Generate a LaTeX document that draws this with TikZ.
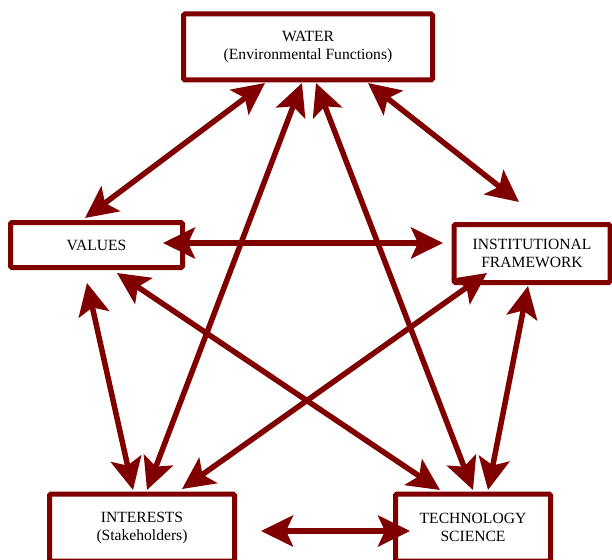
\documentclass[tikz,border=0pt]{standalone}
\usepackage{fontspec}
\setmainfont{Liberation Serif}
\usetikzlibrary{arrows.meta}
\definecolor{maroonc}{HTML}{800000}
\tikzset{
  box/.style={draw=maroonc, line width=5pt, fill=white, rounded corners=1.5pt,
    align=center, inner sep=0pt, font=\fontsize{15.6}{18}\selectfont},
  dbl/.style={draw=maroonc, line width=5.5pt,
    {Stealth[length=32pt,width=31pt,inset=7pt]}-{Stealth[length=32pt,width=31pt,inset=7pt]}}
}
\begin{document}
\begin{tikzpicture}[x=1pt,y=-1pt]
\useasboundingbox (0,0) rectangle (612,559);
% boxes
\node[box, minimum width=249pt, minimum height=66pt] (water) at (308,47)
  {WATER\\(Environmental Functions)};
\node[box, minimum width=172pt, minimum height=45pt] (values) at (96.5,245) {VALUES};
\node[box, minimum width=156pt, minimum height=58pt] (inst) at (532,253.5)
  {INSTITUTIONAL\\FRAMEWORK};
\node[box, minimum width=185pt, minimum height=67pt] (interests) at (142,527.5)
  {INTERESTS\\(Stakeholders)};
\node[box, minimum width=155pt, minimum height=67pt] (tech) at (473,527.5)
  {TECHNOLOGY\\SCIENCE};
% arrow end points
\coordinate (wv1) at (265,83);  \coordinate (wv2) at (85,218);
\coordinate (wi1) at (302,83);  \coordinate (wi2) at (147,490);
\coordinate (wt1) at (316,83);  \coordinate (wt2) at (473,490);
\coordinate (wn1) at (368,83);  \coordinate (wn2) at (519,202);
\coordinate (vn1) at (163,243); \coordinate (vn2) at (443,243);
\coordinate (vi1) at (87,283);  \coordinate (vi2) at (133,490);
\coordinate (vt1) at (117,273); \coordinate (vt2) at (440,490);
\coordinate (ni1) at (487,273); \coordinate (ni2) at (182,489);
\coordinate (nt1) at (528,286); \coordinate (nt2) at (488,490);
\coordinate (it1) at (261,531); \coordinate (it2) at (410,531);
% connectors
\draw[dbl] (wv1) -- (wv2);
\draw[dbl] (wi1) -- (wi2);
\draw[dbl] (wt1) -- (wt2);
\draw[dbl] (wn1) -- (wn2);
\draw[dbl] (vn1) -- (vn2);
\draw[dbl] (vi1) -- (vi2);
\draw[dbl] (vt1) -- (vt2);
\draw[dbl] (ni1) -- (ni2);
\draw[dbl] (nt1) -- (nt2);
\draw[dbl] (it1) -- (it2);
\end{tikzpicture}
\end{document}
